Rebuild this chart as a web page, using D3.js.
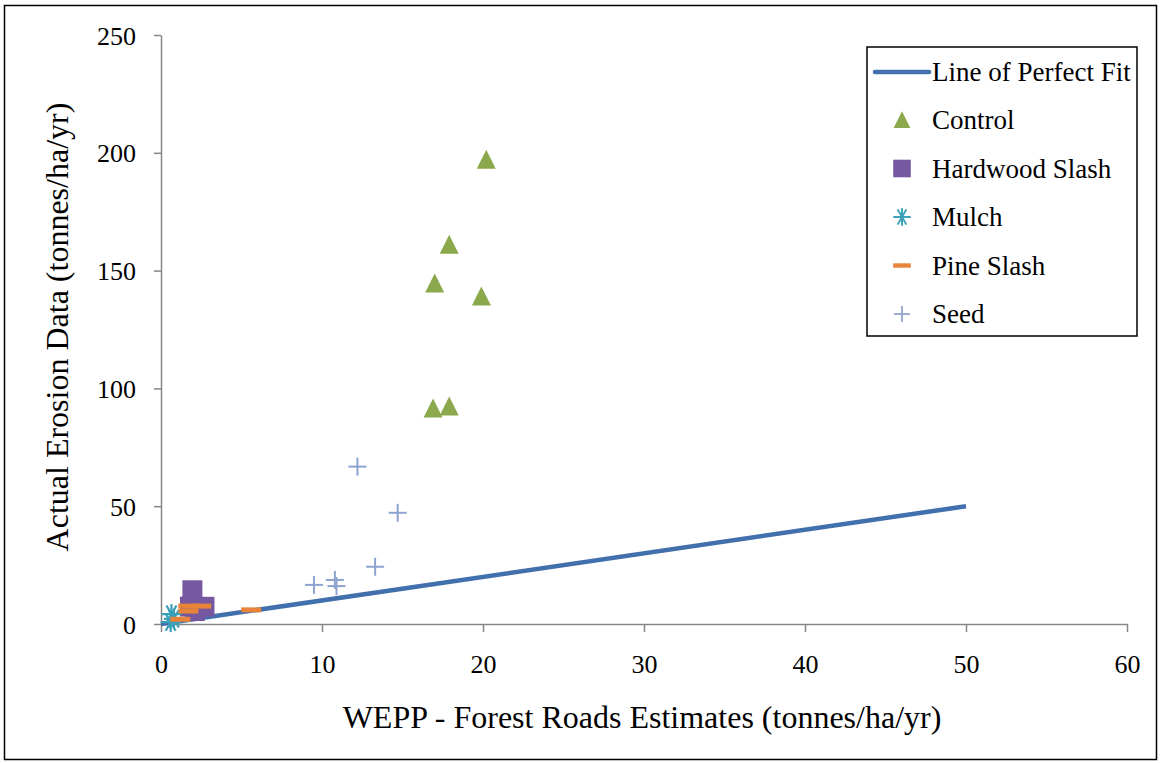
<!DOCTYPE html>
<html>
<head>
<meta charset="utf-8">
<script src="https://cdn.jsdelivr.net/npm/d3@7"></script>
<style>
  body { margin: 0; background: #fff; }
</style>
</head>
<body>
<svg id="chart" width="1161" height="763"></svg>
<script>
// data (tonnes/ha/yr): [WEPP estimate, actual]
const perfectFit = [[0, 0], [50, 50]];
const control = [[20.2, 197], [17.9, 161], [17.0, 144.5], [19.9, 139], [16.9, 91.5], [17.9, 92.3]];
const hardwoodSlash = [[1.95, 14.3], [1.8, 7.4], [2.7, 7.3], [2.1, 5.5]];
const mulch = [[0.65, 4.2], [0.8, 2.2], [0.6, 0.8]];
const pineSlash = [[1.7, 7.6], [2.5, 7.6], [1.7, 5.5], [1.2, 2.0], [5.6, 6.0]];
const seed = [[12.2, 66.8], [14.7, 47.2], [13.3, 24.3], [9.5, 16.6], [10.8, 18.7], [10.9, 16.1]];
const xTicks = [0, 10, 20, 30, 40, 50, 60];
const yTicks = [0, 50, 100, 150, 200, 250];

const FONT = '"Liberation Serif", "Times New Roman", serif';
const svg = d3.select('#chart');
const x = d3.scaleLinear().domain([0, 60]).range([161, 1127]);
const y = d3.scaleLinear().domain([0, 250]).range([624, 35]);

const colors = {
  line: '#4170AD',
  control: '#8BA94C',
  hardwood: '#7558A0',
  mulch: '#3AA0BA',
  pine: '#E8843A',
  seed: '#8DA3CF'
};

// outer frame
svg.append('rect')
  .attr('x', 4.5).attr('y', 5.5).attr('width', 1152).attr('height', 754)
  .attr('fill', 'none').attr('stroke', '#000').attr('stroke-width', 1.5);

// axes
const xAxis = svg.append('g').attr('transform', `translate(0,${y(0)})`)
  .call(d3.axisBottom(x).tickValues(xTicks).tickSize(8).tickSizeOuter(0));
const yAxis = svg.append('g').attr('transform', `translate(${x(0)},0)`)
  .call(d3.axisLeft(y).tickValues(yTicks).tickSize(7).tickPadding(18).tickSizeOuter(0));
[xAxis, yAxis].forEach(g => {
  g.attr('font-family', FONT).attr('font-size', 26);
  g.select('.domain').attr('stroke', '#868686').attr('stroke-width', 1.5);
  g.selectAll('.tick line').attr('stroke', '#868686').attr('stroke-width', 1.5);
  g.selectAll('.tick text').attr('fill', '#000');
});
yAxis.selectAll('.tick text').attr('dy', '0.35em');
xAxis.selectAll('.tick text').attr('y', 49).attr('dy', 0);

// axis titles
svg.append('text').attr('x', 642).attr('y', 728).attr('text-anchor', 'middle')
  .attr('font-family', FONT).attr('font-size', 32).text('WEPP - Forest Roads Estimates (tonnes/ha/yr)');
svg.append('text').attr('transform', 'translate(68,327) rotate(-90)').attr('text-anchor', 'middle')
  .attr('font-family', FONT).attr('font-size', 32).text('Actual Erosion Data (tonnes/ha/yr)');

const plot = svg.append('g');

// line of perfect fit
plot.append('path').datum(perfectFit)
  .attr('d', d3.line().x(d => x(d[0])).y(d => y(d[1])))
  .attr('fill', 'none').attr('stroke', colors.line).attr('stroke-width', 4.5);

// marker drawers
function triangle(g) {
  g.append('path').attr('d', 'M0,-10L9.5,9L-9.5,9Z').attr('fill', colors.control);
}
function square(g) {
  g.append('rect').attr('x', -10).attr('y', -10).attr('width', 20).attr('height', 20).attr('fill', colors.hardwood);
}
function star(g) {
  [0, 60, 120].forEach(a => g.append('line')
    .attr('x1', 0).attr('y1', -10).attr('x2', 0).attr('y2', 10)
    .attr('transform', `rotate(${a + 30})`)
    .attr('stroke', colors.mulch).attr('stroke-width', 2.2));
  g.append('line').attr('x1', 0).attr('y1', -10).attr('x2', 0).attr('y2', 10)
    .attr('stroke', colors.mulch).attr('stroke-width', 2.2);
}
function dash(g) {
  g.append('rect').attr('x', -10).attr('y', -2.5).attr('width', 20).attr('height', 5).attr('fill', colors.pine);
}
function plus(g) {
  g.append('line').attr('x1', -9).attr('x2', 9).attr('stroke', colors.seed).attr('stroke-width', 2);
  g.append('line').attr('y1', -9).attr('y2', 9).attr('stroke', colors.seed).attr('stroke-width', 2);
}

const series = [
  {name: 'Control', data: control, draw: triangle},
  {name: 'Hardwood Slash', data: hardwoodSlash, draw: square},
  {name: 'Mulch', data: mulch, draw: star},
  {name: 'Pine Slash', data: pineSlash, draw: dash},
  {name: 'Seed', data: seed, draw: plus}
];

series.forEach(s => {
  plot.selectAll(null).data(s.data).enter().append('g')
    .attr('transform', d => `translate(${x(d[0])},${y(d[1])})`)
    .each(function() { s.draw(d3.select(this)); });
});

// legend
const legend = svg.append('g').attr('font-family', FONT).attr('font-size', 27);
legend.append('rect').attr('x', 867).attr('y', 47).attr('width', 270).attr('height', 289)
  .attr('fill', '#fff').attr('stroke', '#000').attr('stroke-width', 1.5);
legend.append('line').attr('x1', 875).attr('x2', 929).attr('y1', 72).attr('y2', 72)
  .attr('stroke', colors.line).attr('stroke-width', 4.5).attr('stroke-linecap', 'round');
legend.append('text').attr('x', 932).attr('y', 72).attr('dy', '0.35em').text('Line of Perfect Fit');
series.forEach((s, i) => {
  const cy = 120 + i * 48.5;
  const g = legend.append('g').attr('transform', `translate(902,${cy}) scale(0.88)`);
  s.draw(g);
  legend.append('text').attr('x', 932).attr('y', cy).attr('dy', '0.35em').text(s.name);
});
</script>
</body>
</html>
